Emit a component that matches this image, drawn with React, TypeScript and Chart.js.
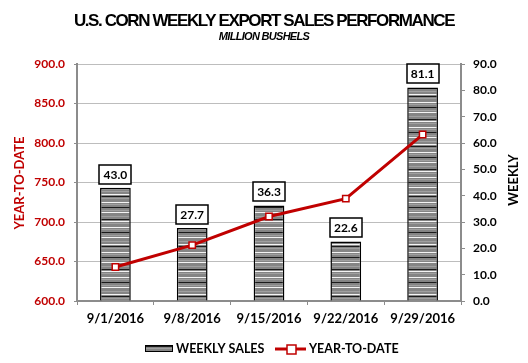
import React, { useEffect, useRef } from 'react';
import { Chart, registerables } from 'chart.js';
Chart.register(...registerables);

const categories = ['9/1/2016', '9/8/2016', '9/15/2016', '9/22/2016', '9/29/2016'];
const weeklySales = [43.0, 27.7, 36.3, 22.6, 81.1];
const yearToDate = [643.0, 670.7, 707.0, 729.6, 810.7];
const ytdAxis = [600, 900, 50];
const weeklyAxis = [0, 90, 10];

const titleText = 'U.S. CORN WEEKLY EXPORT SALES PERFORMANCE';
const subtitleText = 'MILLION BUSHELS';
const leftTitle = 'YEAR-TO-DATE';
const rightTitle = 'WEEKLY';
const barLabel = 'WEEKLY SALES';
const lineLabel = 'YEAR-TO-DATE';

const RED = '#C00000';
const AXIS = '#8C8C8C';
const GRID = '#BDBDBD';
const FONT = 'Lato, "Open Sans", sans-serif';

function makePattern(): CanvasPattern | string {
  const G = '#858585';
  const L = '#a0a0a0';
  const W = '#f4f4f4';
  const K = '#1a1a1a';
  const rows = [
    G, G, W, G, L, G, G, K, G, G,
    L, G, W, G, G, G, L, G, G, K,
    G, W, G, L, G, G, G, W, G, L,
    G, G, K, G, G, L, G, W, G, G,
    G, L, G, G, W, G, K, G, L, G,
  ];
  const c = document.createElement('canvas');
  c.width = 4;
  c.height = rows.length;
  const g = c.getContext('2d');
  if (!g) return G;
  rows.forEach((col, i) => {
    g.fillStyle = col;
    g.fillRect(0, i, 4, 1);
  });
  const p = g.createPattern(c, 'repeat');
  return p || G;
}

const overlay = {
  id: 'overlay',
  afterDatasetsDraw(chart: any) {
    const ctx = chart.ctx as CanvasRenderingContext2D;
    const meta = chart.getDatasetMeta(0);
    ctx.save();
    meta.data.forEach((bar: any, i: number) => {
      const { x, y } = bar.getProps(['x', 'y'], true);
      const txt = weeklySales[i].toFixed(1);
      ctx.font = `bold 12px ${FONT}`;
      const w = Math.round(ctx.measureText(txt).width + 8);
      const h = 19;
      const bx = Math.round(x - w / 2);
      const by = Math.round(y - 4 - h);
      ctx.fillStyle = '#ffffff';
      ctx.fillRect(bx, by, w, h);
      ctx.strokeStyle = '#000000';
      ctx.lineWidth = 1.5;
      ctx.strokeRect(bx, by, w, h);
      ctx.fillStyle = '#000000';
      ctx.textAlign = 'center';
      ctx.textBaseline = 'middle';
      ctx.fillText(txt, x, by + h / 2 + 1);
    });
    ctx.restore();
  },
  afterDraw(chart: any) {
    const ctx = chart.ctx as CanvasRenderingContext2D;
    ctx.save();
    ctx.fillStyle = '#000000';
    ctx.textAlign = 'center';
    ctx.textBaseline = 'middle';
    (ctx as any).letterSpacing = '-1.4px';
    ctx.font = 'bold 17px "Liberation Sans", Arial, sans-serif';
    ctx.fillText(titleText, 264, 21);
    (ctx as any).letterSpacing = '-0.7px';
    ctx.font = 'italic bold 11px "Liberation Sans", Arial, sans-serif';
    ctx.fillText(subtitleText, 264, 37);
    (ctx as any).letterSpacing = '0px';

    ctx.font = `bold 13px ${FONT}`;
    ctx.save();
    ctx.translate(20, 183);
    ctx.rotate(-Math.PI / 2);
    ctx.fillStyle = RED;
    ctx.fillText(leftTitle, 0, 0);
    ctx.restore();
    ctx.save();
    ctx.translate(514, 180);
    ctx.rotate(-Math.PI / 2);
    ctx.fillStyle = '#000000';
    ctx.fillText(rightTitle, 0, 0);
    ctx.restore();

    const pat = chart.data.datasets[0].backgroundColor;
    ctx.fillStyle = pat;
    ctx.fillRect(145, 345, 28, 7);
    ctx.strokeStyle = '#000000';
    ctx.lineWidth = 1;
    ctx.strokeRect(145.5, 345.5, 27, 6);
    ctx.fillStyle = '#000000';
    ctx.textAlign = 'left';
    ctx.font = `bold 12.5px ${FONT}`;
    ctx.fillText(barLabel, 176, 349);

    ctx.strokeStyle = RED;
    ctx.lineWidth = 3;
    ctx.beginPath();
    ctx.moveTo(275, 349);
    ctx.lineTo(306, 349);
    ctx.stroke();
    ctx.fillStyle = '#ffffff';
    ctx.fillRect(287, 345, 9, 9);
    ctx.lineWidth = 1.5;
    ctx.strokeRect(287, 345, 9, 9);
    ctx.fillStyle = '#000000';
    ctx.fillText(lineLabel, 309, 349);
    ctx.restore();
  },
};

export default function App() {
  const ref = useRef<HTMLCanvasElement | null>(null);
  useEffect(() => {
    document.body.style.margin = '0';
    if (!ref.current) return;
    const pattern = makePattern();
    const chart = new Chart(ref.current, {
      data: {
        labels: categories,
        datasets: [
          {
            type: 'bar',
            label: barLabel,
            data: weeklySales,
            yAxisID: 'y1',
            backgroundColor: pattern as any,
            borderColor: '#000000',
            borderWidth: 1.5,
            barPercentage: 0.4,
            categoryPercentage: 1,
            order: 1,
          },
          {
            type: 'line',
            label: lineLabel,
            data: yearToDate,
            yAxisID: 'y',
            borderColor: RED,
            borderWidth: 3,
            pointStyle: 'rect',
            pointRadius: 4.5,
            pointBackgroundColor: '#ffffff',
            pointBorderColor: RED,
            pointBorderWidth: 1.5,
            tension: 0,
            order: 0,
          },
        ],
      },
      options: {
        animation: false,
        responsive: true,
        maintainAspectRatio: false,
        layout: { padding: { top: 64, left: 0, right: 0, bottom: 0 } },
        plugins: {
          legend: { display: false },
          title: { display: false },
          tooltip: { enabled: false },
        },
        scales: {
          x: {
            type: 'category',
            offset: true,
            afterFit: (s: any) => { s.height = 62; },
            grid: { offset: true, drawOnChartArea: false, drawTicks: true, tickLength: 4, color: AXIS, lineWidth: 1 },
            border: { color: AXIS, width: 2 },
            ticks: { color: '#000000', font: { family: FONT, size: 13, weight: 'bold' }, padding: 6, maxRotation: 0 },
          },
          y: {
            position: 'left',
            min: ytdAxis[0],
            max: ytdAxis[1],
            afterFit: (s: any) => { s.width = 77; },
            grid: { color: GRID, lineWidth: 1, tickLength: 3, tickColor: AXIS },
            border: { color: AXIS, width: 2 },
            ticks: {
              stepSize: ytdAxis[2],
              color: RED,
              padding: 9,
              font: { family: FONT, size: 12, weight: 'bold' },
              callback: (v: any) => Number(v).toFixed(1),
            },
          },
          y1: {
            position: 'right',
            min: weeklyAxis[0],
            max: weeklyAxis[1],
            afterFit: (s: any) => { s.width = 67; },
            grid: { drawOnChartArea: false, tickLength: 4, color: AXIS },
            border: { color: AXIS, width: 2 },
            ticks: {
              stepSize: weeklyAxis[2],
              color: '#000000',
              padding: 8,
              font: { family: FONT, size: 12, weight: 'bold' },
              callback: (v: any) => Number(v).toFixed(1),
            },
          },
        },
      },
      plugins: [overlay],
    });
    return () => chart.destroy();
  }, []);
  return (
    <div style={{ width: 528, height: 363, position: 'relative' }}>
      <canvas ref={ref} />
    </div>
  );
}
